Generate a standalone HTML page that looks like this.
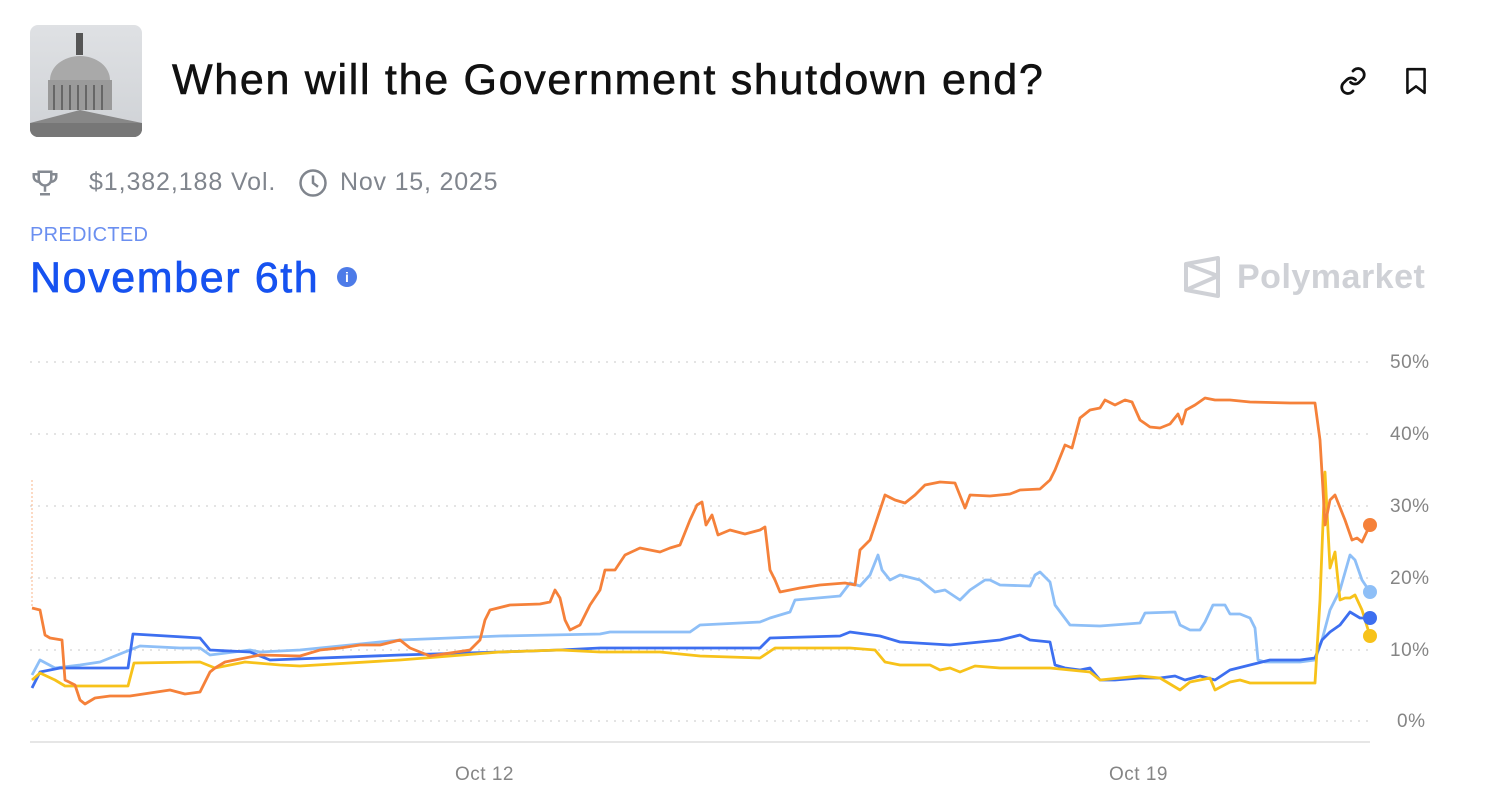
<!DOCTYPE html>
<html><head><meta charset="utf-8"><style>
body{margin:0;width:1499px;height:807px;background:#fff;font-family:"Liberation Sans",sans-serif;overflow:hidden;position:relative}
.a{position:absolute;white-space:nowrap}
</style></head><body>
<div class="a" style="left:30px;top:25px;width:112px;height:112px;border-radius:8px;overflow:hidden;background:linear-gradient(#dfe1e4,#cfd2d6)">
<svg width="112" height="112"><rect x="46" y="8" width="7" height="22" fill="#555"/><ellipse cx="50" cy="55" rx="30" ry="24" fill="#a9a9a9"/><rect x="18" y="55" width="64" height="30" fill="#9a9a9a"/><g stroke="#666" stroke-width="2"><line x1="24" y1="60" x2="24" y2="85"/><line x1="32" y1="60" x2="32" y2="85"/><line x1="40" y1="60" x2="40" y2="85"/><line x1="48" y1="60" x2="48" y2="85"/><line x1="56" y1="60" x2="56" y2="85"/><line x1="64" y1="60" x2="64" y2="85"/><line x1="72" y1="60" x2="72" y2="85"/></g><polygon points="0,98 50,85 112,98 112,112 0,112" fill="#888"/><rect x="0" y="98" width="112" height="14" fill="#777"/></svg></div>
<div class="a" style="left:172px;top:56px;font-size:43px;color:#111;letter-spacing:1.7px;-webkit-text-stroke:0.6px #111">When will the Government shutdown end?</div>
<svg class="a" style="left:1338px;top:66px" width="30" height="30" viewBox="0 0 24 24" fill="none" stroke="#111" stroke-width="2.2" stroke-linecap="round"><path d="M10 13a5 5 0 0 0 7 0l3-3a5 5 0 0 0-7-7l-1 1"/><path d="M14 11a5 5 0 0 0-7 0l-3 3a5 5 0 0 0 7 7l1-1"/></svg>
<svg class="a" style="left:1403px;top:66px" width="26" height="30" viewBox="0 0 24 28" fill="none" stroke="#111" stroke-width="2.4" stroke-linejoin="round"><path d="M4 3h16v22l-8-6-8 6z"/></svg>
<svg class="a" style="left:30px;top:168px" width="30" height="30" viewBox="0 0 24 24" fill="none" stroke="#858a92" stroke-width="2"><path d="M7 3h10v6a5 5 0 0 1-10 0z"/><path d="M7 5H3v2a4 4 0 0 0 4 4M17 5h4v2a4 4 0 0 1-4 4M12 14v5M8 21h8"/></svg>
<div class="a" style="left:89px;top:168px;font-size:25px;color:#80858d;letter-spacing:0.9px">$1,382,188 Vol.</div>
<svg class="a" style="left:298px;top:168px" width="30" height="30" viewBox="0 0 24 24" fill="none" stroke="#80858d" stroke-width="2"><circle cx="12" cy="12" r="10"/><path d="M12 6v6l4 3"/></svg>
<div class="a" style="left:340px;top:168px;font-size:25px;color:#80858d;letter-spacing:0.8px">Nov 15, 2025</div>
<div class="a" style="left:30px;top:224px;font-size:20px;color:#6b8ff0;letter-spacing:0.3px">PREDICTED</div>
<div class="a" style="left:30px;top:254px;font-size:43px;color:#1652f0;letter-spacing:1.6px;-webkit-text-stroke:0.7px #1652f0">November 6th</div>
<div class="a" style="left:337px;top:267px;width:20px;height:20px;border-radius:50%;background:#4d7be8;color:#fff;font-size:14px;font-weight:bold;text-align:center;line-height:20px">i</div>
<svg class="a" style="left:1183px;top:256px" width="38" height="42" viewBox="0 0 38 42" fill="none" stroke="#cfd1d6" stroke-width="4" stroke-linejoin="round"><path d="M3 8l32-6v38L3 34z"/><path d="M3 8l32 12L3 34"/></svg>
<div class="a" style="left:1237px;top:258px;font-size:34px;font-weight:bold;color:#cfd1d6;letter-spacing:0.5px">Polymarket</div>
<svg class="a" style="left:0;top:0" width="1499" height="807">
<g stroke="#dcdcdc" stroke-width="1.5" stroke-dasharray="2 6"><line x1="30" y1="362" x2="1370" y2="362"/><line x1="30" y1="434" x2="1370" y2="434"/><line x1="30" y1="506" x2="1370" y2="506"/><line x1="30" y1="578" x2="1370" y2="578"/><line x1="30" y1="650" x2="1370" y2="650"/><line x1="30" y1="721" x2="1370" y2="721"/></g>
<line x1="30" y1="742" x2="1370" y2="742" stroke="#dedede" stroke-width="1.5"/>
<g font-size="19" fill="#858585" font-family="Liberation Sans,sans-serif" letter-spacing="0.5"><text x="1390" y="368">50%</text><text x="1390" y="440">40%</text><text x="1390" y="512">30%</text><text x="1390" y="584">20%</text><text x="1390" y="656">10%</text><text x="1397" y="727">0%</text><text x="455" y="780">Oct 12</text><text x="1109" y="780">Oct 19</text></g>
<line x1="32" y1="480" x2="32" y2="608" stroke="#f9b68a" stroke-width="1" stroke-dasharray="2 2"/>
<g fill="none" stroke-width="2.8" stroke-linejoin="round">
<polyline stroke="#8ebff7" points="32,675 40,660 55,668 80,665 100,662 130,650 140,646 180,648 200,648 210,655 250,650 260,652 300,650 400,640 500,636 600,634 610,632 690,632 700,625 760,622 770,618 790,612 795,600 840,596 850,583 860,586 870,575 878,555 882,570 890,580 900,575 920,580 935,592 945,590 960,600 970,590 985,580 990,580 1000,585 1030,586 1035,575 1040,572 1050,582 1055,605 1070,625 1100,626 1140,623 1145,613 1175,612 1180,625 1190,630 1200,630 1205,622 1213,605 1225,605 1230,614 1240,614 1250,618 1255,628 1258,660 1265,662 1300,662 1315,660 1322,640 1330,610 1340,590 1350,555 1355,560 1362,580 1370,592"/>
<polyline stroke="#3d6ff0" points="32,688 40,672 60,668 100,668 128,668 133,634 200,638 210,650 250,652 270,660 400,655 500,652 560,650 600,648 700,648 760,648 770,638 840,636 850,632 880,636 900,642 950,645 1000,640 1020,635 1030,640 1050,642 1055,665 1065,668 1080,670 1090,668 1100,680 1115,680 1140,678 1160,678 1175,676 1185,680 1200,676 1215,680 1230,670 1250,665 1270,660 1300,660 1315,658 1322,640 1330,632 1340,625 1350,612 1360,618 1370,618"/>
<polyline stroke="#f7c21a" points="32,680 40,673 55,680 65,686 100,686 128,686 134,663 200,662 215,668 245,662 280,665 300,666 400,660 500,652 560,650 600,652 660,652 700,656 760,658 775,648 850,648 875,650 885,662 900,665 930,665 940,670 950,668 960,672 975,666 1000,668 1050,668 1090,672 1100,680 1140,676 1160,678 1180,690 1190,682 1210,678 1215,690 1230,682 1240,680 1250,683 1315,683 1320,600 1325,472 1328,530 1330,568 1335,552 1340,600 1345,598 1350,598 1355,595 1362,610 1370,636"/>
<polyline stroke="#f5813a" points="32,608 40,610 45,635 50,638 62,640 65,680 75,685 80,700 85,704 95,698 110,696 130,696 150,693 170,690 185,694 200,692 210,672 215,668 225,662 235,660 260,655 300,656 320,650 340,648 360,645 380,645 400,640 410,648 430,656 470,650 480,640 485,620 490,610 510,605 540,604 550,602 555,590 560,598 565,620 570,630 580,625 590,605 600,590 605,570 615,570 625,555 640,548 660,552 670,548 680,545 690,520 697,505 702,502 706,525 712,515 718,535 730,530 745,534 760,530 765,527 770,570 775,580 780,592 790,590 800,588 820,585 845,583 855,585 860,550 870,540 880,510 885,495 895,500 905,503 915,495 925,485 940,482 955,483 965,508 970,495 990,496 1010,494 1020,490 1040,489 1050,480 1055,470 1065,445 1072,448 1080,418 1090,410 1100,408 1105,400 1115,405 1125,400 1132,402 1140,420 1150,427 1160,428 1170,424 1178,414 1182,424 1186,410 1195,405 1205,398 1215,400 1230,400 1250,402 1290,403 1315,403 1320,440 1323,490 1325,525 1330,500 1335,495 1345,520 1352,540 1357,538 1362,542 1370,525"/>
</g>
<circle cx="1370" cy="525" r="7" fill="#f5813a"/><circle cx="1370" cy="592" r="7" fill="#8ebff7"/><circle cx="1370" cy="618" r="7" fill="#3d6ff0"/><circle cx="1370" cy="636" r="7" fill="#f7c21a"/>
</svg>
</body></html>
